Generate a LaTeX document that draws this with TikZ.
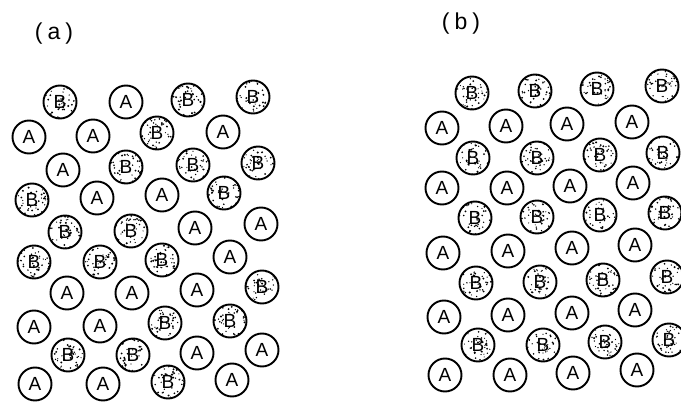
\documentclass[tikz,border=0pt]{standalone}
\usepackage{fontspec}
\setmainfont{Liberation Sans}
\begin{document}
\begin{tikzpicture}[x=1pt,y=-1pt,
  mol/.style={circle,draw,line width=1.9pt,minimum size=33pt,inner sep=0pt,
    font=\fontsize{19}{19}\selectfont},
  molA/.style={mol},
  molB/.style={mol,path picture={
    \foreach \k in {1,...,40}{
      \pgfmathsetmacro\rr{16.5*sqrt(rnd)}
      \pgfmathsetmacro\aa{360*rnd}
      \pgfmathsetmacro\ss{0.55+0.55*rnd}
      \fill (path picture bounding box.center) ++(\aa:\rr) circle (\ss pt);
    }}},
  lab/.style={font=\fontsize{23}{23}\selectfont}]
\pgfmathsetseed{17}
\useasboundingbox (0,0) rectangle (681,406);
\node[lab] (la) at (54,34) {(\hspace{5pt}a\hspace{5pt})};
\node[lab] (lb) at (461,24) {(\hspace{5pt}b\hspace{5pt})};
% panel (a)
\foreach \t/\x/\y [count=\i] in {
  B/60/102, A/126/102, B/188/100, B/253/97,
  A/29/137, A/93/136, B/157/133, A/223/132,
  A/63/170, B/126/167, B/193/165, B/258/163,
  B/32/200, A/97/198, A/162/195, B/224/193,
  B/65/232, B/131/231, A/195/228, A/261/224,
  B/34/262, B/100/262, B/162/260, A/230/257,
  A/67/293, A/132/293, A/197/290, B/262/287,
  A/34/327, A/100/326, B/165/323, B/230/321,
  B/68/355, B/133/355, A/197/353, A/262/350,
  A/35/384, A/103/384, B/168/382, A/232/380}
  {\node[mol\t] (a\i) at (\x,\y) {\t};}
% panel (b)
\foreach \t/\x/\y [count=\i] in {
  B/472/93, B/535/91, B/597/89, B/662/86,
  A/442/128, A/506/126, A/567/124, A/632/122,
  B/473/158, B/537/158, B/600/155, B/663/153,
  A/442/188, A/507/188, A/570/186, A/633/183,
  B/475/218, B/537/217, B/600/215, B/665/213,
  A/443/253, A/508/251, A/572/248, A/635/245,
  B/476/283, B/540/282, B/603/280, B/667/277,
  A/444/317, A/508/315, A/572/313, A/635/310,
  B/478/345, B/543/345, B/605/342, B/669/340,
  A/445/375, A/510/375, A/573/373, A/637/370}
  {\node[mol\t] (b\i) at (\x,\y) {\t};}
\end{tikzpicture}
\end{document}
